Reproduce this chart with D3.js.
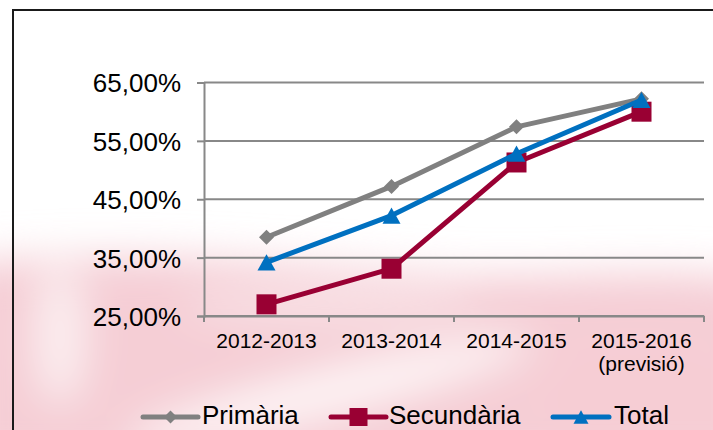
<!DOCTYPE html>
<html>
<head>
<meta charset="utf-8">
<script src="https://cdn.jsdelivr.net/npm/d3@7"></script>
<style>
  html, body { margin: 0; padding: 0; background: #fff; }
  svg { display: block; font-family: "Liberation Sans", Arial, sans-serif; }
</style>
</head>
<body>
<div id="chart"></div>
<script>
// ---- Data ----
const categories = ["2012-2013", "2013-2014", "2014-2015", "2015-2016 (previsió)"];
const primaria   = [38.5, 47.2, 57.4, 62.2];
const secundaria = [27.0, 33.1, 51.3, 60.0];
const total      = [34.2, 42.2, 52.8, 62.0];
const yTicks     = [25, 35, 45, 55, 65];
const seriesNames = ["Primària", "Secundària", "Total"];
const seriesColors = ["#808080", "#990033", "#0070C0"];
const seriesMarkers = ["diamond", "square", "triangle"];

const W = 713, H = 430;
const svg = d3.select("#chart").append("svg").attr("width", W).attr("height", H);

// ---- faint pink watermark background ----
const defs = svg.append("defs");
const f = defs.append("filter").attr("id", "blur").attr("x", "-50%").attr("y", "-50%").attr("width", "200%").attr("height", "200%");
f.append("feGaussianBlur").attr("stdDeviation", 20);
const wm = svg.append("g").attr("filter", "url(#blur)");
wm.append("path")
  .attr("d", "M-40,265 C100,245 300,265 450,275 C560,280 650,265 760,280 L760,470 L-40,470 Z")
  .attr("fill", "#f5ced5");
wm.append("ellipse").attr("cx", 330).attr("cy", 392).attr("rx", 210).attr("ry", 24)
  .attr("transform", "rotate(-14,330,392)").attr("fill", "#fdf4f5");
wm.append("ellipse").attr("cx", 60).attr("cy", 335).attr("rx", 26).attr("ry", 70).attr("fill", "#fbeef0");
wm.append("ellipse").attr("cx", 330).attr("cy", 305).attr("rx", 150).attr("ry", 16).attr("fill", "#f9e4e8");
wm.append("ellipse").attr("cx", 640).attr("cy", 395).attr("rx", 100).attr("ry", 55).attr("fill", "#f6cdd4");

// ---- outer border ----
svg.append("rect").attr("x", 13).attr("y", 10).attr("width", 800).attr("height", 500)
  .attr("fill", "none").attr("stroke", "#1a1a1a").attr("stroke-width", 2);

// ---- scales ----
const x = d3.scaleBand().domain(categories).range([204, 704]).padding(0);
const y = d3.scaleLinear().domain([25, 65]).range([316, 82.5]);
const cx = c => x(c) + x.bandwidth() / 2;

// gridlines
svg.append("g").selectAll("line").data(yTicks).join("line")
  .attr("x1", 204).attr("x2", 704)
  .attr("y1", d => y(d)).attr("y2", d => y(d))
  .attr("stroke", "#888").attr("stroke-width", 2);

// y axis
const yAxis = svg.append("g").attr("transform", "translate(204,0)")
  .call(d3.axisLeft(y).tickValues(yTicks).tickSize(7).tickPadding(16)
    .tickFormat(d => d3.format(".2f")(d).replace(".", ",") + "%"));
yAxis.select(".domain").attr("stroke", "#888").attr("stroke-width", 2);
yAxis.selectAll(".tick line").attr("stroke", "#888").attr("stroke-width", 2);
yAxis.selectAll("text").attr("font-size", 26).attr("fill", "#000")
  .attr("font-family", "'Liberation Sans', Arial, sans-serif").attr("dy", "0.36em");

// x axis
const xAxis = svg.append("g").attr("transform", "translate(0,316)")
  .call(d3.axisBottom(x).tickSize(0).tickFormat(() => ""));
xAxis.select(".domain").attr("stroke", "#888").attr("stroke-width", 2);
const bounds = categories.map(c => x(c)).concat([x(categories[categories.length - 1]) + x.bandwidth()]);
svg.append("g").selectAll("line").data(bounds).join("line")
  .attr("x1", d => d).attr("x2", d => d).attr("y1", 316).attr("y2", 322)
  .attr("stroke", "#888").attr("stroke-width", 2);
const xl = svg.append("g").selectAll("text").data(categories).join("text")
  .attr("x", d => cx(d)).attr("y", 348)
  .attr("text-anchor", "middle").attr("font-size", 21).attr("fill", "#000");
xl.each(function(d) {
  const parts = d.split(" ");
  const t = d3.select(this);
  parts.forEach((p, i) => t.append("tspan").attr("x", cx(d)).attr("dy", i === 0 ? 0 : 22.5).text(p));
});

// ---- markers ----
function marker(g, type, px, py, s, color) {
  if (type === "diamond") {
    g.append("path").attr("d", `M${px},${py - s / 2}L${px + s / 2},${py}L${px},${py + s / 2}L${px - s / 2},${py}Z`).attr("fill", color);
  } else if (type === "square") {
    g.append("rect").attr("x", px - s / 2).attr("y", py - s / 2).attr("width", s).attr("height", s).attr("fill", color);
  } else {
    const h = s * 0.9;
    g.append("path").attr("d", `M${px},${py - h / 2}L${px + s / 2},${py + h / 2}L${px - s / 2},${py + h / 2}Z`).attr("fill", color);
  }
}

const allSeries = [primaria, secundaria, total];
const markerSizes = [15, 20, 18];
const line = d3.line().x((d, i) => cx(categories[i])).y(d => y(d));
allSeries.forEach((vals, si) => {
  const g = svg.append("g");
  g.append("path").datum(vals).attr("d", line).attr("fill", "none")
    .attr("stroke", seriesColors[si]).attr("stroke-width", 5)
    .attr("stroke-linejoin", "round").attr("stroke-linecap", "round");
  vals.forEach((v, i) => marker(g, seriesMarkers[si], cx(categories[i]), y(v), markerSizes[si], seriesColors[si]));
});

// ---- legend ----
const legendItems = [
  { x1: 143, x2: 198, tx: 202 },
  { x1: 331, x2: 386, tx: 389 },
  { x1: 553, x2: 609, tx: 614 }
];
const legendMarkerSizes = [13, 18, 15];
const lg = svg.append("g");
seriesNames.forEach((name, i) => {
  const it = legendItems[i];
  lg.append("line").attr("x1", it.x1).attr("x2", it.x2).attr("y1", 417).attr("y2", 417)
    .attr("stroke", seriesColors[i]).attr("stroke-width", 5).attr("stroke-linecap", "round");
  marker(lg, seriesMarkers[i], (it.x1 + it.x2) / 2, 417, legendMarkerSizes[i], seriesColors[i]);
  lg.append("text").attr("x", it.tx).attr("y", 424).attr("font-size", 26).attr("fill", "#000").text(name);
});
</script>
</body>
</html>
